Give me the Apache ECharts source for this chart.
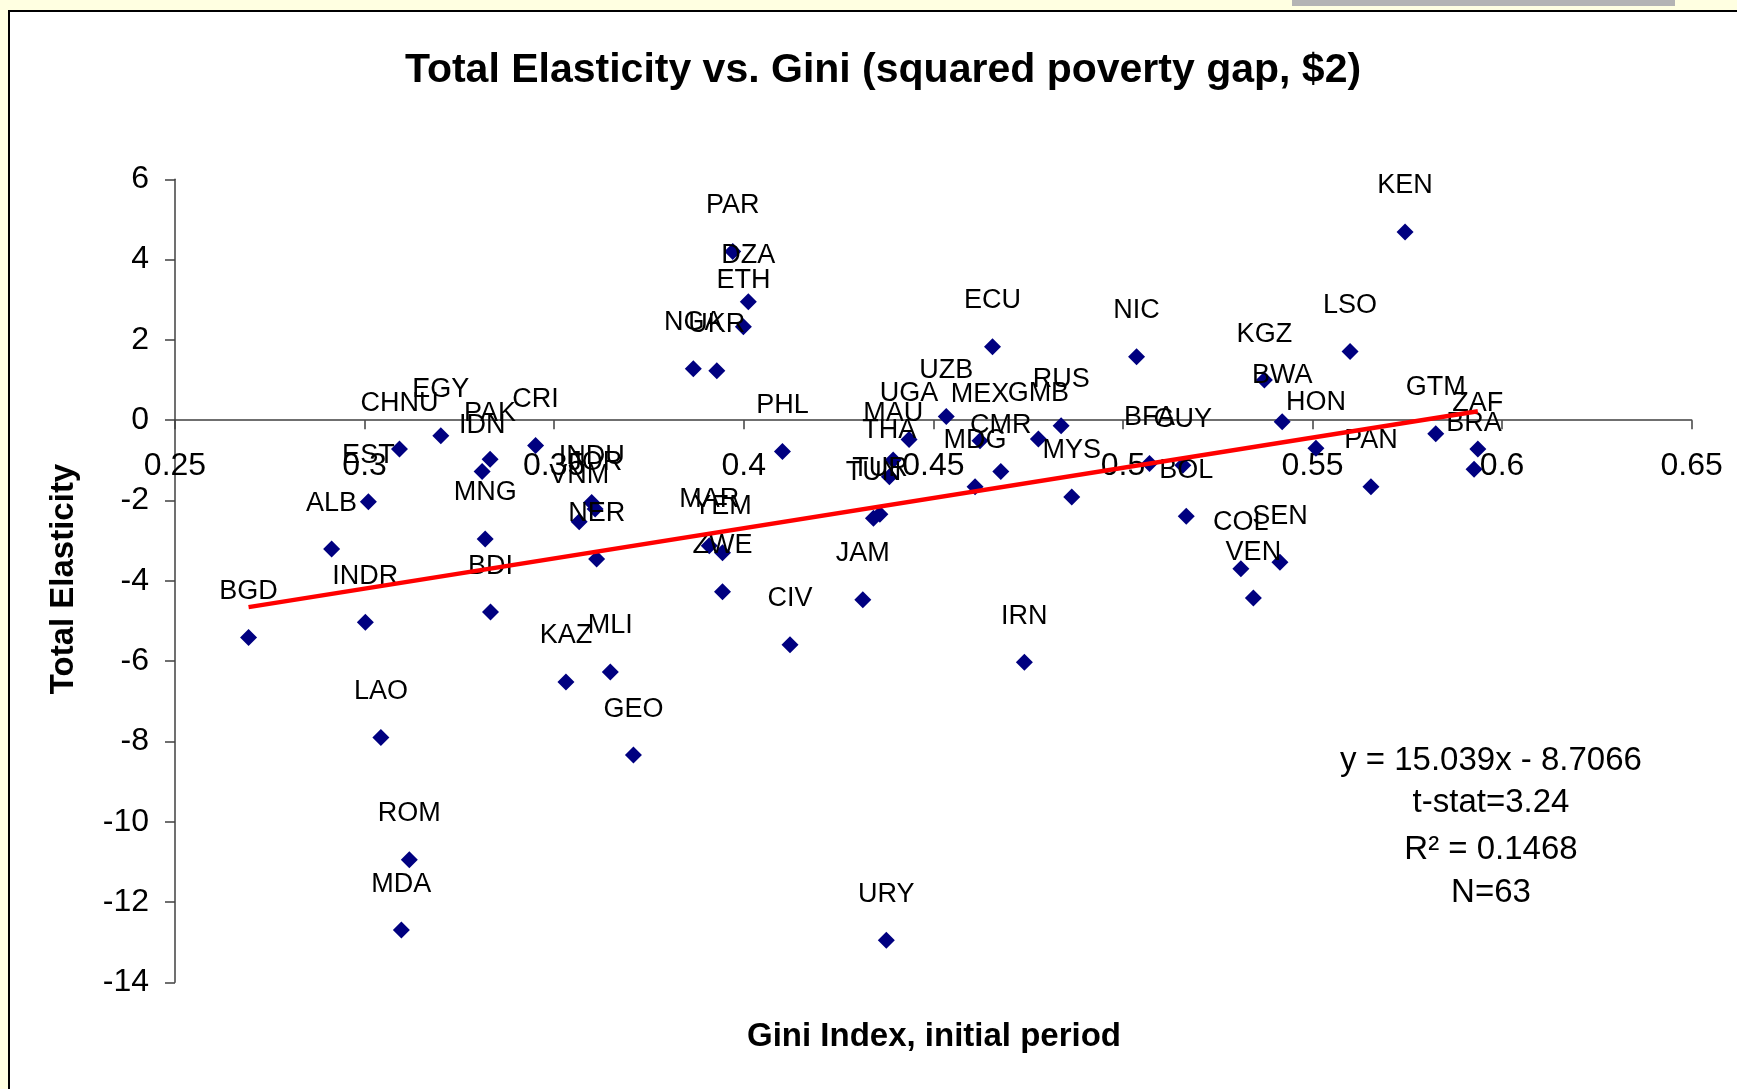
<!DOCTYPE html>
<html><head><meta charset="utf-8">
<script src="https://cdn.jsdelivr.net/npm/echarts@6/dist/echarts.min.js"></script>
<style>html,body{margin:0;padding:0;background:#FFFFE1;} #c{width:1737px;height:1089px;}</style>
</head><body><div id="c"></div>
<script>
const countries = ['BGD','ALB','INDR','EST','CHNU','EGY','PAK','IDN','CRI','MNG','BDI','LAO','ROM','MDA','KAZ','MLI','GEO','INDU','JOR','VNM','NER','PAR','DZA','ETH','NGA','UKR','MAR','YEM','ZWE','PHL','CIV','JAM','MAU','THA','TUR','TUN','UGA','UZB','ECU','MEX','CMR','MDG','GMB','RUS','MYS','IRN','URY','NIC','BFA','GUY','BOL','COL','SEN','VEN','KGZ','BWA','HON','LSO','PAN','KEN','GTM','ZAF','BRA'];
const gini = [0.2694,0.2913,0.3002,0.3010,0.3092,0.3201,0.3331,0.3310,0.3451,0.3318,0.3332,0.3043,0.3118,0.3097,0.3531,0.3648,0.3709,0.3599,0.3608,0.3566,0.3612,0.3971,0.4012,0.3999,0.3867,0.3929,0.3909,0.3944,0.3944,0.4102,0.4122,0.4314,0.4394,0.4384,0.4359,0.4342,0.4436,0.4534,0.4656,0.4623,0.4678,0.4610,0.4777,0.4837,0.4865,0.4740,0.4376,0.5036,0.5070,0.5158,0.5167,0.5311,0.5414,0.5344,0.5373,0.5420,0.5509,0.5599,0.5654,0.5744,0.5825,0.5936,0.5926];
const elasticity = [-5.41,-3.21,-5.03,-2.03,-0.72,-0.39,-0.97,-1.28,-0.63,-2.96,-4.78,-7.90,-10.95,-12.70,-6.52,-6.27,-8.34,-2.05,-2.21,-2.53,-3.46,4.20,2.95,2.33,1.28,1.23,-3.13,-3.30,-4.27,-0.78,-5.59,-4.47,-0.99,-1.41,-2.34,-2.44,-0.48,0.09,1.83,-0.51,-1.28,-1.66,-0.47,-0.14,-1.91,-6.03,-12.95,1.58,-1.08,-1.12,-2.39,-3.70,-3.54,-4.43,1.00,-0.04,-0.70,1.71,-1.66,4.69,-0.34,-0.72,-1.22];
const trendX = [0.2694, 0.5936];
const trendY = [-4.655, 0.221];
const xMin = 0.25, xMax = 0.65, xStep = 0.05;
const yMin = -14, yMax = 6, yStep = 2;
const titleText = 'Total Elasticity vs. Gini (squared poverty gap, $2)';
const xTitle = 'Gini Index, initial period';
const yTitle = 'Total Elasticity';
const statLines = ['y = 15.039x - 8.7066', 't-stat=3.24', 'R\u00B2 = 0.1468', 'N=63'];

const FONT = '"Liberation Sans", Arial, sans-serif';
const chart = echarts.init(document.getElementById('c'), null, {renderer: 'canvas'});
const pts = countries.map((c, i) => [gini[i], elasticity[i], c]);
const statY = [761, 803, 850, 893];
const gridTop = 179.3, gridBottom = 106.7;
const plotH = 1089 - gridTop - gridBottom;
const zeroOffset = -plotH * (0 - yMin) / (yMax - yMin);

chart.setOption({
  animation: false,
  grid: {left: 175, right: 45.3, top: gridTop, bottom: gridBottom},
  xAxis: {
    type: 'value', min: xMin, max: xMax, interval: xStep,
    position: 'bottom', offset: zeroOffset,
    splitLine: {show: false},
    axisLine: {onZero: false, lineStyle: {color: '#404040', width: 1.5}},
    axisTick: {show: true, length: 9, lineStyle: {color: '#404040', width: 1.5}},
    axisLabel: {show: true, margin: 30, fontSize: 32, color: '#000', fontFamily: FONT,
      showMinLabel: true, showMaxLabel: true,
      formatter: v => String(+v.toFixed(2))}
  },
  yAxis: {
    type: 'value', min: yMin, max: yMax, interval: yStep,
    splitLine: {show: false},
    axisLine: {show: true, onZero: false, lineStyle: {color: '#404040', width: 1.5}},
    axisTick: {show: true, length: 10, lineStyle: {color: '#404040', width: 1.5}},
    axisLabel: {margin: 26, fontSize: 32, color: '#000', fontFamily: FONT,
      showMinLabel: true, showMaxLabel: true}
  },
  graphic: [
    {type: 'rect', z: -10, shape: {x: 9, y: 11, width: 1800, height: 1150},
      style: {fill: '#FFFFFF', stroke: '#000000', lineWidth: 2}},
    {type: 'rect', z: -9, shape: {x: 1292, y: 0, width: 383, height: 6},
      style: {fill: '#B4B4B4'}},
    {type: 'text', x: 883, y: 71, z: 10, style: {text: titleText, fontSize: 41, fontWeight: 'bold',
      fontFamily: FONT, fill: '#000', textAlign: 'center', textVerticalAlign: 'middle'}},
    {type: 'text', x: 934, y: 1037, z: 10, style: {text: xTitle, fontSize: 33, fontWeight: 'bold',
      fontFamily: FONT, fill: '#000', textAlign: 'center', textVerticalAlign: 'middle'}},
    {type: 'text', x: 64, y: 579, rotation: Math.PI / 2, z: 10, style: {text: yTitle, fontSize: 33, fontWeight: 'bold',
      fontFamily: FONT, fill: '#000', textAlign: 'center', textVerticalAlign: 'middle'}}
  ].concat(statLines.map((t, i) => ({
    type: 'text', x: 1491, y: statY[i], z: 10,
    style: {text: t, fontSize: 33, fontFamily: FONT, fill: '#000', textAlign: 'center', textVerticalAlign: 'middle'}
  }))),
  series: [
    {
      type: 'scatter', z: 3,
      symbol: 'diamond', symbolSize: [17, 17],
      itemStyle: {color: '#000080', opacity: 1},
      data: pts,
      label: {show: true, position: 'top', distance: 24,
        formatter: p => p.data[2], fontSize: 27, color: '#000000', opacity: 1, fontFamily: FONT,
        textBorderWidth: 0, textBorderColor: 'transparent'},
      labelLayout: {hideOverlap: false},
      emphasis: {disabled: true}
    },
    {
      type: 'line', z: 4, symbol: 'none', silent: true,
      lineStyle: {color: '#FF0000', width: 4.5, opacity: 1},
      data: trendX.map((x, i) => [x, trendY[i]])
    }
  ]
});
</script></body></html>
